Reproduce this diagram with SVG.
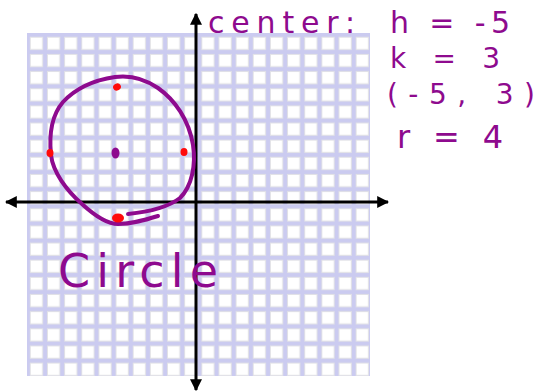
<svg xmlns="http://www.w3.org/2000/svg" width="536" height="392" viewBox="0 0 536 392">
<style>
.ink{fill:none;stroke:#8e0a8e;stroke-width:4;stroke-linecap:round;stroke-linejoin:round}
.hand{font-family:"DejaVu Sans","Liberation Sans",sans-serif;fill:#8e0a8e}
.axis{stroke:#000;stroke-width:3}
.dot{fill:#ff0a0a}
</style>
<defs>
<pattern id="grid" patternUnits="userSpaceOnUse" x="27" y="33" width="17.15" height="17.15">
<rect width="17.15" height="17.15" fill="#cbcbf0"/>
<rect x="3.3" y="4.2" width="12.3" height="12.3" fill="#ffffff" stroke="#e2e2e6" stroke-width="1"/>
</pattern>
<marker id="ah" viewBox="0 0 10 10" refX="9" refY="5" markerWidth="4" markerHeight="4" orient="auto" markerUnits="strokeWidth">
<path d="M0,0 L10,5 L0,10 Z" fill="#000"/>
</marker>
</defs>
<rect width="536" height="392" fill="#fff"/>
<g id="grid-paper">
<rect x="27" y="33" width="343" height="343" fill="url(#grid)"/>
</g>
<g id="axes">
<line class="axis" x1="196" y1="202" x2="196" y2="14" marker-end="url(#ah)"/>
<line class="axis" x1="196" y1="202" x2="196" y2="390" marker-end="url(#ah)"/>
<line class="axis" x1="196" y1="202" x2="6" y2="202" marker-end="url(#ah)"/>
<line class="axis" x1="196" y1="202" x2="388" y2="202" marker-end="url(#ah)"/>
</g>
<g id="circle">
<path class="ink" d="M128,214 C148,212 167,208 180,198 C192,186 196,165 193,145 C189,120 175,100 158,88 C145,79 130,75 115,77 C95,80 76,88 63,102 C51,116 49,135 51,155 C53,172 66,190 82,204 C95,216 108,224 118,224 C132,224 145,220 158,216"/>
</g>
<g id="points">
<ellipse class="dot" cx="117" cy="87" rx="4" ry="3.5" transform="rotate(-30 117 87)"/>
<ellipse class="dot" cx="50" cy="153" rx="3.5" ry="4"/>
<ellipse class="dot" cx="184" cy="152" rx="3.5" ry="4"/>
<ellipse class="dot" cx="118" cy="218" rx="6" ry="4.5"/>
<ellipse cx="115.5" cy="153" rx="4" ry="5.5" fill="#8e0a8e"/>
</g>
<g id="labels">
<text class="hand" x="208" y="33" font-size="30" textLength="147" lengthAdjust="spacing">center:</text>
<text class="hand" x="390" y="33" font-size="30" textLength="120" lengthAdjust="spacing">h = -5</text>
<text class="hand" x="390" y="68" font-size="28" textLength="110" lengthAdjust="spacing">k = 3</text>
<text class="hand" x="387" y="104" font-size="28" textLength="148" lengthAdjust="spacing">(-5, 3)</text>
<text class="hand" x="397" y="148" font-size="32" textLength="106" lengthAdjust="spacing">r = 4</text>
<text class="hand" x="58" y="287" font-size="46" textLength="160" lengthAdjust="spacing">Circle</text>
</g>
</svg>
